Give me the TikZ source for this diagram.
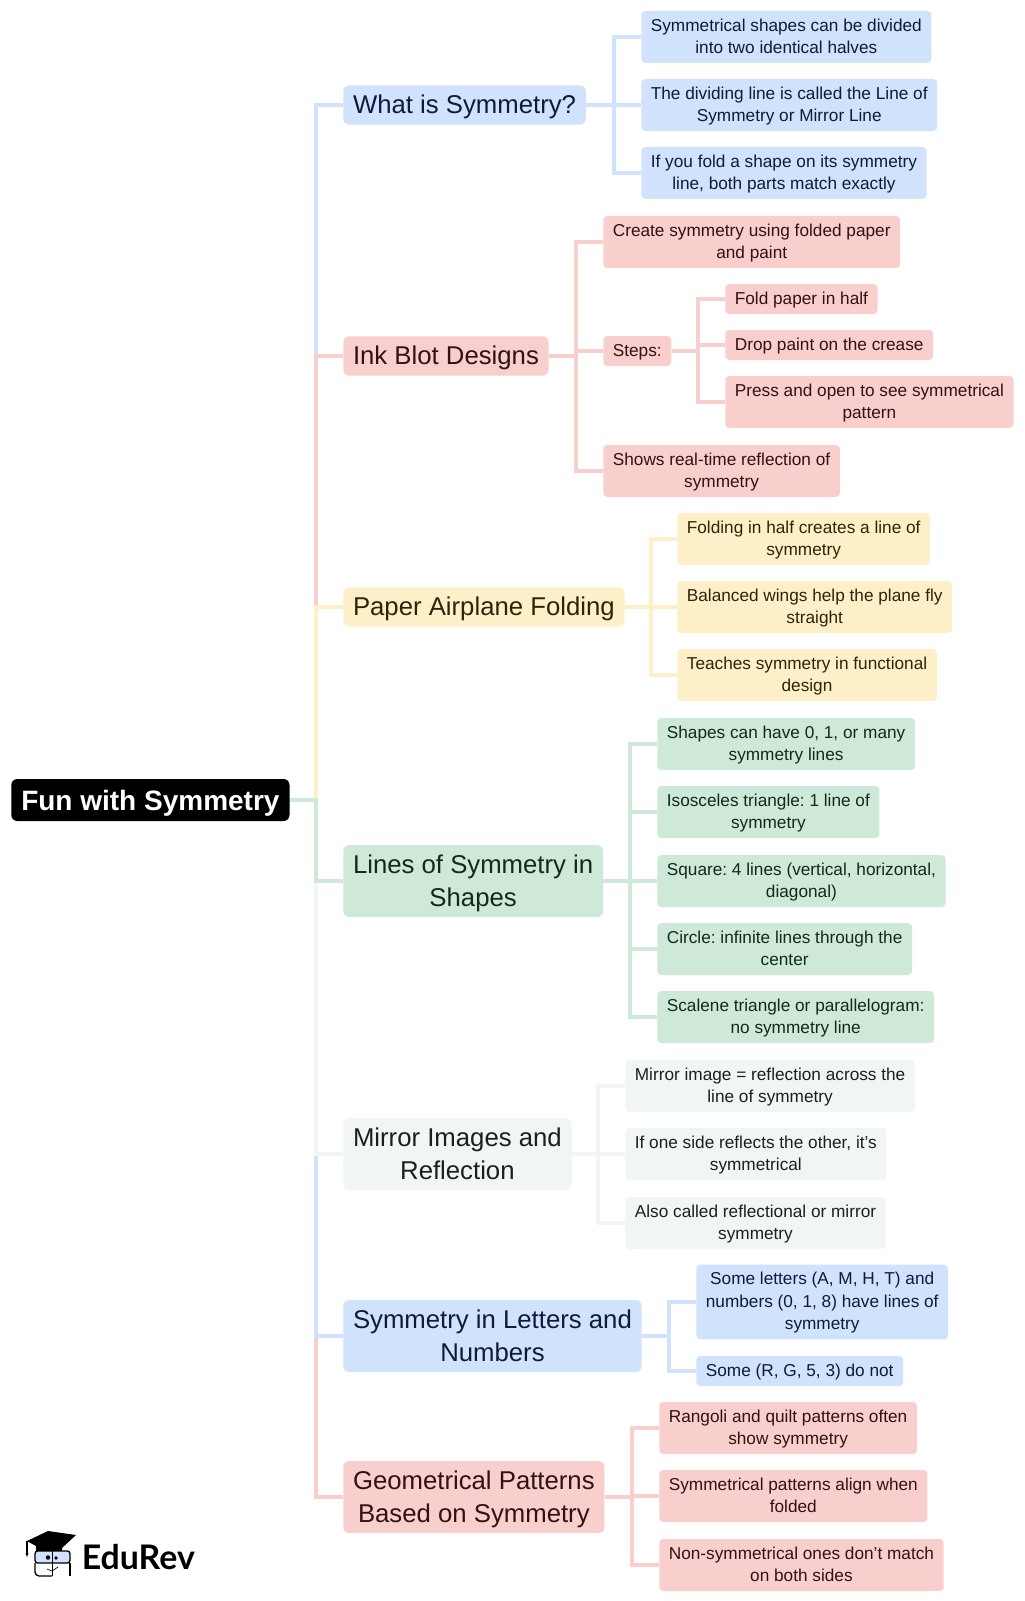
\documentclass[tikz,border=0pt]{standalone}
\usepackage{fontspec}
\setmainfont{Liberation Sans}
\newfontfamily\logofont{Lato}

\tikzset{
  anybox/.style 2 args={anchor=west,align=center,inner ysep=0pt,execute at begin node={\rule[-#2pt]{0pt}{\dimexpr#1pt+#2pt\relax}}},
  rootbox/.style={anybox={21.5}{6.25},fill=black,text=white,rounded corners=4.5pt,minimum height=31.5pt,inner xsep=7.5pt,font=\bfseries\fontsize{21}{25}\selectfont\frenchspacing},
  mainlook/.style={rounded corners=4pt,inner xsep=7.3pt,font=\fontsize{19.3}{24.6}\selectfont\frenchspacing},
  mainbox/.style={mainlook,anybox={19.3}{6.25},minimum height=29.5pt},
  twobox/.style={mainlook,anybox={44.4}{6.25},minimum height=54pt},
  leaflook/.style={rounded corners=3pt,inner xsep=7.2pt,font=\fontsize{12.92}{16.9}\selectfont\frenchspacing},
  leafbox/.style={leaflook,anybox={29.2}{4.2},minimum height=39pt},
  onebox/.style={leaflook,anybox={13}{4.2},minimum height=22.5pt},
  threebox/.style={leaflook,anybox={46.1}{4.2},minimum height=56pt},
  link/.style={line width=3pt},
}

\begin{document}
\begin{tikzpicture}[x=0.75pt,y=-0.75pt]
\definecolor{la_blue}{RGB}{208,226,252}   %#D0E2FC
\definecolor{la_red}{RGB}{249,207,206}    %#F9CFCE
\definecolor{la_yellow}{RGB}{253,240,200} %#FDF0C8
\definecolor{la_green}{RGB}{206,233,216}  %#CEE9D8
\definecolor{la_gray}{RGB}{241,245,244}   %#F1F5F4
\definecolor{la_navy}{RGB}{15,27,56}      %#0F1B38
\definecolor{la_maroon}{RGB}{48,18,18}    %#301212
\definecolor{la_brown}{RGB}{48,36,8}      %#302408
\definecolor{la_forest}{RGB}{16,42,28}    %#102A1C
\definecolor{la_slate}{RGB}{26,32,32}     %#1A2020

\useasboundingbox (0,0) rectangle (1024,1601);

\coordinate (spine) at (316,800);

% root and branches
\node [rootbox] (root) at (11,800) {Fun with Symmetry};
\node [mainbox,fill=la_blue,text=la_navy] (what) at (343,105) {What is Symmetry?};
\node [mainbox,fill=la_red,text=la_maroon] (ink) at (343,356) {Ink Blot Designs};
\node [mainbox,fill=la_yellow,text=la_brown] (plane) at (343,607) {Paper Airplane Folding};
\node [twobox,fill=la_green,text=la_forest] (lines) at (343,881) {Lines of Symmetry in\\Shapes};
\node [twobox,fill=la_gray,text=la_slate] (mirror) at (343,1154) {Mirror Images and\\Reflection};
\node [twobox,fill=la_blue,text=la_navy] (letters) at (343,1336) {Symmetry in Letters and\\Numbers};
\node [twobox,fill=la_red,text=la_maroon] (patterns) at (343,1497) {Geometrical Patterns\\Based on Symmetry};

% leaves
\node [leafbox,fill=la_blue,text=la_navy] (whata) at (641,37) {Symmetrical shapes can be divided\\into two identical halves};
\node [leafbox,fill=la_blue,text=la_navy] (whatb) at (641,105) {The dividing line is called the Line of\\Symmetry or Mirror Line};
\node [leafbox,fill=la_blue,text=la_navy] (whatc) at (641,173) {If you fold a shape on its symmetry\\line, both parts match exactly};

\node [leafbox,fill=la_red,text=la_maroon] (inka) at (603,242) {Create symmetry using folded paper\\and paint};
\node [onebox,fill=la_red,text=la_maroon] (steps) at (603,351) {Steps:};
\node [onebox,fill=la_red,text=la_maroon] (stepa) at (725,299) {Fold paper in half};
\node [onebox,fill=la_red,text=la_maroon] (stepb) at (725,345) {Drop paint on the crease};
\node [leafbox,fill=la_red,text=la_maroon] (stepc) at (725,402) {Press and open to see symmetrical\\pattern};
\node [leafbox,fill=la_red,text=la_maroon] (inkb) at (603,471) {Shows real-time reflection of\\symmetry};

\node [leafbox,fill=la_yellow,text=la_brown] (planea) at (677,539) {Folding in half creates a line of\\symmetry};
\node [leafbox,fill=la_yellow,text=la_brown] (planeb) at (677,607) {Balanced wings help the plane fly\\straight};
\node [leafbox,fill=la_yellow,text=la_brown] (planec) at (677,675) {Teaches symmetry in functional\\design};

\node [leafbox,fill=la_green,text=la_forest] (linesa) at (657,744) {Shapes can have 0, 1, or many\\symmetry lines};
\node [leafbox,fill=la_green,text=la_forest] (linesb) at (657,812) {Isosceles triangle: 1 line of\\symmetry};
\node [leafbox,fill=la_green,text=la_forest] (linesc) at (657,881) {Square: 4 lines (vertical, horizontal,\\diagonal)};
\node [leafbox,fill=la_green,text=la_forest] (linesd) at (657,949) {Circle: infinite lines through the\\center};
\node [leafbox,fill=la_green,text=la_forest] (linese) at (657,1017) {Scalene triangle or parallelogram:\\no symmetry line};

\node [leafbox,fill=la_gray,text=la_slate] (mirrora) at (625,1086) {Mirror image = reflection across the\\line of symmetry};
\node [leafbox,fill=la_gray,text=la_slate] (mirrorb) at (625,1154) {If one side reflects the other, it’s\\symmetrical};
\node [leafbox,fill=la_gray,text=la_slate] (mirrorc) at (625,1223) {Also called reflectional or mirror\\symmetry};

\node [threebox,fill=la_blue,text=la_navy] (lettersa) at (696,1302) {Some letters (A, M, H, T) and\\numbers (0, 1, 8) have lines of\\symmetry};
\node [onebox,fill=la_blue,text=la_navy] (lettersb) at (696,1371) {Some (R, G, 5, 3) do not};

\node [leafbox,fill=la_red,text=la_maroon] (patternsa) at (659,1428) {Rangoli and quilt patterns often\\show symmetry};
\node [leafbox,fill=la_red,text=la_maroon] (patternsb) at (659,1496) {Symmetrical patterns align when\\folded};
\node [leafbox,fill=la_red,text=la_maroon] (patternsc) at (659,1565) {Non-symmetrical ones don’t match\\on both sides};

% links from the root, the order makes the colours of the spine
\draw [link,la_blue] (root.east) -- (spine) |- (what.west);
\draw [link,la_red] (root.east) -- (spine) |- (ink.west);
\draw [link,la_yellow] (root.east) -- (spine) |- (plane.west);
\draw [link,la_red] (root.east) -- (spine) |- (patterns.west);
\draw [link,la_blue] (root.east) -- (spine) |- (letters.west);
\draw [link,la_gray] (root.east) -- (spine) |- (mirror.west);
\draw [link,la_green] (root.east) -- (spine) |- (lines.west);

% links to the leaves
\foreach \leaf in {whata,whatb,whatc} \draw [link,la_blue] (what.east) -- ++(28,0) |- (\leaf.west);
\foreach \leaf in {inka,steps,inkb} \draw [link,la_red] (ink.east) -- ++(27,0) |- (\leaf.west);
\foreach \leaf in {stepa,stepb,stepc} \draw [link,la_red] (steps.east) -- ++(26,0) |- (\leaf.west);
\foreach \leaf in {planea,planeb,planec} \draw [link,la_yellow] (plane.east) -- ++(26,0) |- (\leaf.west);
\foreach \leaf in {linesa,linesb,linesc,linesd,linese} \draw [link,la_green] (lines.east) -- ++(27,0) |- (\leaf.west);
\foreach \leaf in {mirrora,mirrorb,mirrorc} \draw [link,la_gray] (mirror.east) -- ++(26,0) |- (\leaf.west);
\foreach \leaf in {lettersa,lettersb} \draw [link,la_blue] (letters.east) -- ++(27,0) |- (\leaf.west);
\foreach \leaf in {patternsa,patternsb,patternsc} \draw [link,la_red] (patterns.east) -- ++(27,0) |- (\leaf.west);

% logo
\fill [black] (27,1541) -- (48,1531) -- (76,1535) -- (62,1548) -- (62,1552) -- (36,1552) -- (36,1546) -- cycle;
\draw [line width=0.8pt] (27,1541) -- (27,1553);
\fill (25.5,1553) -- (28.5,1553) -- (27,1557) -- cycle;
\draw [line width=1pt,fill=la_blue,rounded corners=2pt] (35,1551) rectangle (70,1563);
\draw [line width=1pt,rounded corners=3pt] (35,1563) -- (35,1576) -- (52,1576);
\draw [line width=1pt,rounded corners=3pt] (70,1563) -- (70,1576);
\draw [line width=0.7pt] (52,1551) -- (52,1576);
\fill (48,1557.5) circle (2.2);
\fill (56,1558) circle (1.8);
\draw [line width=0.5pt] (47,1569) -- (52,1571) -- (58,1567);
\node [anchor=base west,inner sep=0pt,font=\logofont\bfseries\fontsize{25.4}{30}\selectfont] (brand) at (81.5,1569) {EduRev};
\end{tikzpicture}
\end{document}
